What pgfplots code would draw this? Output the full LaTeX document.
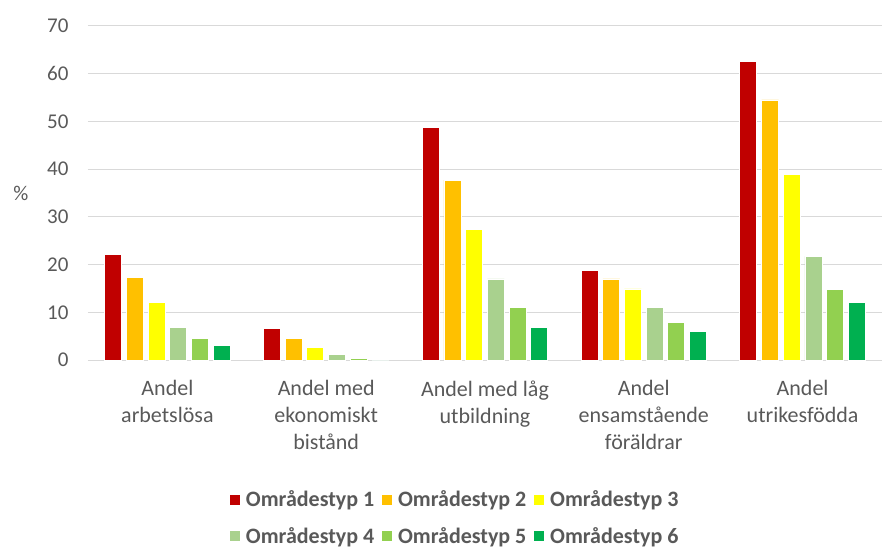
\documentclass[border=0pt]{standalone}
\usepackage{fontspec}
\setmainfont{Carlito}
\usepackage{pgfplots}
\pgfplotsset{compat=1.18}
\definecolor{c1}{HTML}{C00000}
\definecolor{c2}{HTML}{FFC000}
\definecolor{c3}{HTML}{FFFF00}
\definecolor{c4}{HTML}{A9D18E}
\definecolor{c5}{HTML}{92D050}
\definecolor{c6}{HTML}{00B050}
\definecolor{txt}{HTML}{595959}
\definecolor{grd}{HTML}{D9D9D9}
\begin{document}
\begin{tikzpicture}
\begin{axis}[
  at={(0pt,0pt)}, anchor=south west,
  scale only axis, width=794pt, height=334pt,
  ymin=0, ymax=70, ytick={0,10,...,70},
  xmin=-0.5, xmax=4.5, xtick={0,1,2,3,4},
  xticklabels={{Andel\\arbetslösa},{Andel med\\ekonomiskt\\bistånd},{Andel med låg\\utbildning},{Andel\\ensamstående\\föräldrar},{Andel\\utrikesfödda}},
  ybar=4.7pt, bar width=17pt,
  axis x line*=bottom, axis y line*=left,
  y axis line style={draw=none},
  x axis line style={draw=grd, line width=1pt},
  major tick length=0pt,
  ymajorgrids, grid style={draw=grd, line width=1pt},
  tick label style={font=\fontsize{21}{26.7}\selectfont, text=txt},
  yticklabel style={xshift=-16pt},
  xticklabel style={align=center, yshift=-17pt, font=\fontsize{22}{27}\selectfont},
  /pgf/number format/assume math mode=true,
  ylabel={\%},
  ylabel style={rotate=-90, at={(axis description cs:-0.0844,0.5)}, anchor=center, font=\fontsize{21}{25}\selectfont, text=txt},
  legend columns=3,
  legend style={draw=none, at={(0.462,-0.472)}, anchor=center,
    font=\bfseries\fontsize{22}{26}\selectfont, text=txt,
    /tikz/every even column/.append style={column sep=5pt},
    /tikz/every odd column/.append style={column sep=3pt},
    row sep=15pt},
  legend image code/.code={\fill[#1] (0pt,-5.5pt) rectangle (11pt,5.5pt);},
  every axis plot/.append style={draw=white, line width=0.75pt},
]
\addplot[fill=c1] coordinates {(0,22.1) (1,6.6) (2,48.8) (3,18.8) (4,62.5)};
\addplot[fill=c2] coordinates {(0,17.3) (1,4.5) (2,37.7) (3,17.0) (4,54.5)};
\addplot[fill=c3] coordinates {(0,12.0) (1,2.6) (2,27.3) (3,14.9) (4,38.9)};
\addplot[fill=c4] coordinates {(0,6.9) (1,1.1) (2,17.0) (3,11.0) (4,21.7)};
\addplot[fill=c5] coordinates {(0,4.5) (1,0.4) (2,11.0) (3,7.9) (4,14.7)};
\addplot[fill=c6] coordinates {(0,3.1) (1,0.0) (2,6.9) (3,6.0) (4,12.0)};
\legend{Områdestyp 1,Områdestyp 2,Områdestyp 3,Områdestyp 4,Områdestyp 5,Områdestyp 6}
\end{axis}
\pgfresetboundingbox
\path[use as bounding box] (-88pt,-189pt) rectangle (794pt,360pt);
\end{tikzpicture}
\end{document}
